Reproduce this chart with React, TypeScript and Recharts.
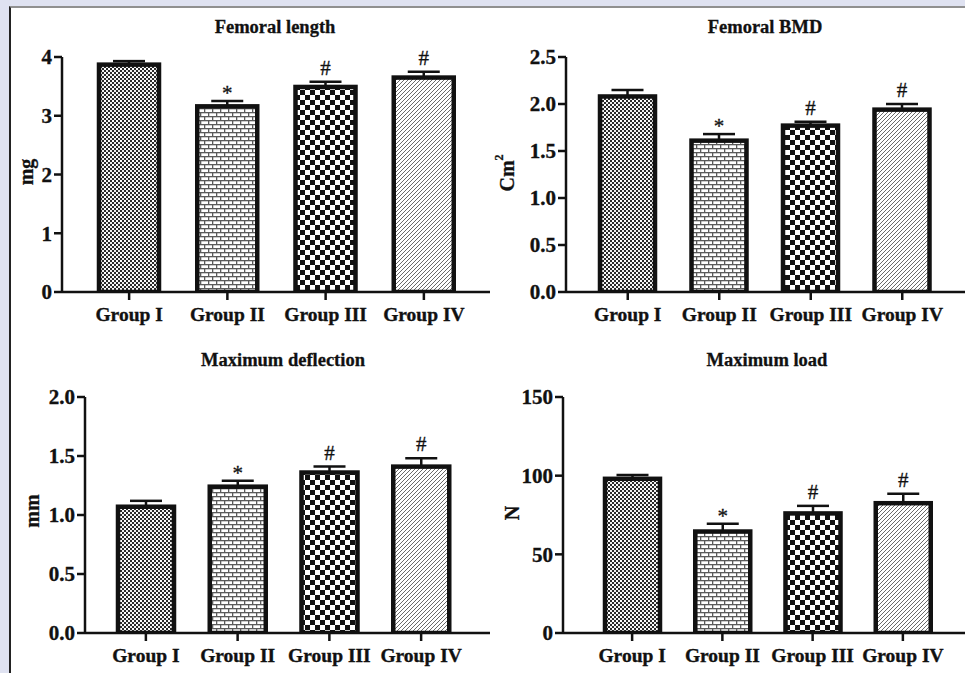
import { BarChart, Bar, XAxis, YAxis, ErrorBar, LabelList } from 'recharts';

const groups = ['Group I', 'Group II', 'Group III', 'Group IV'];
const marks = ['', '*', '#', '#'];

const lengthMean = [3.87, 3.16, 3.49, 3.65];
const lengthErr = [0.06, 0.09, 0.09, 0.1];
const lengthTicks = [0, 1, 2, 3, 4];

const bmdMean = [2.08, 1.61, 1.77, 1.94];
const bmdErr = [0.07, 0.07, 0.04, 0.06];
const bmdTicks = [0, 0.5, 1.0, 1.5, 2.0, 2.5];

const deflMean = [1.07, 1.24, 1.36, 1.41];
const deflErr = [0.05, 0.05, 0.05, 0.07];
const deflTicks = [0, 0.5, 1.0, 1.5, 2.0];

const loadMean = [98, 64.5, 76, 82.5];
const loadErr = [2.5, 5, 4.8, 6];
const loadTicks = [0, 50, 100, 150];

const FONT = '"Liberation Serif", "Times New Roman", serif';
const fills = ['url(#pFine)', 'url(#pBrick)', 'url(#pCheck)', 'url(#pDiag)'];

function Patterns() {
  return (
    <svg width={0} height={0} style={{ position: 'absolute' }}>
      <defs>
        <pattern id="pFine" width={4} height={4} patternUnits="userSpaceOnUse">
          <rect width={4} height={4} fill="#2a2a2a" />
          <rect width={2} height={2} fill="#fff" />
          <rect x={2} y={2} width={2} height={2} fill="#eee" />
        </pattern>
        <pattern id="pBrick" width={8} height={8} patternUnits="userSpaceOnUse">
          <rect width={8} height={8} fill="#fff" />
          <rect y={0} width={8} height={1.3} fill="#5a5a5a" />
          <rect y={4} width={8} height={1.3} fill="#5a5a5a" />
          <rect x={0} y={0} width={1.3} height={4} fill="#5a5a5a" />
          <rect x={4} y={4} width={1.3} height={4} fill="#5a5a5a" />
        </pattern>
        <pattern id="pCheck" width={10} height={10} patternUnits="userSpaceOnUse">
          <rect width={10} height={10} fill="#fff" />
          <rect width={5} height={5} fill="#111" />
          <rect x={5} y={5} width={5} height={5} fill="#111" />
        </pattern>
        <pattern id="pDiag" width={4} height={4} patternUnits="userSpaceOnUse">
          <rect width={4} height={4} fill="#fff" />
          <path d="M-1,1 L1,-1 M0,4 L4,0 M3,5 L5,3" stroke="#6a6a6a" strokeWidth={1} />
        </pattern>
      </defs>
    </svg>
  );
}

const markContent = (values: number[], errs: number[]) => (p: any) => {
  const vb = p.viewBox || {};
  const x = Number(p.x ?? vb.x);
  const y = Number(p.y ?? vb.y);
  const w = Number(p.width ?? vb.width);
  const h = Number(p.height ?? vb.height);
  const v = Number(p.value);
  const i = typeof p.index === 'number' ? p.index : values.indexOf(v);
  const mark = marks[i];
  if (!mark || !v) return null;
  const pxPer = Math.abs(h) / v;
  const top = Math.min(y, y + h);
  const capY = top - errs[i] * pxPer;
  return (
    <text
      x={x + w / 2}
      y={mark === '*' ? capY - 1 : capY - 7}
      textAnchor="middle"
      fontFamily={FONT}
      fontSize={21}
      fill="#111"
      stroke="#111"
      strokeWidth={0.3}
    >
      {mark}
    </text>
  );
};

interface PanelProps {
  left: number;
  top: number;
  width: number;
  height: number;
  axisX: number;
  xAxisH: number;
  pad: { left: number; right: number };
  barSize: number;
  values: number[];
  errs: number[];
  ticks: number[];
  decimals: number;
  title: string;
  titleX: number;
  titleY: number;
  yLabel: React.ReactNode;
  yLabelX: number;
  yLabelY: number;
}

const tickFont = { fontFamily: FONT, fontWeight: 'bold', fill: '#111', stroke: '#111', strokeWidth: 0.35 };

function Panel(props: PanelProps) {
  const data = groups.map((g, i) => ({
    name: g,
    value: props.values[i],
    err: [0, props.errs[i]],
  }));
  const max = props.ticks[props.ticks.length - 1];
  return (
    <div style={{ position: 'absolute', left: props.left, top: props.top }}>
      <BarChart
        width={props.width}
        height={props.height}
        data={data}
        margin={{ top: 57, right: 0, bottom: 0, left: 0 }}
      >
        <text
          x={props.titleX}
          y={props.titleY}
          textAnchor="middle"
          fontFamily={FONT}
          fontWeight="bold"
          fontSize={18.5}
          fill="#111"
          stroke="#111"
          strokeWidth={0.3}
        >
          {props.title}
        </text>
        <text
          x={props.yLabelX}
          y={props.yLabelY}
          transform={`rotate(-90 ${props.yLabelX} ${props.yLabelY})`}
          textAnchor="middle"
          dominantBaseline="central"
          fontFamily={FONT}
          fontWeight="bold"
          fontSize={20}
          fill="#111"
          stroke="#111"
          strokeWidth={0.3}
        >
          {props.yLabel}
        </text>
        <XAxis
          dataKey="name"
          height={props.xAxisH}
          padding={props.pad}
          tickSize={8}
          tickMargin={7}
          axisLine={{ stroke: '#111', strokeWidth: 2.5 }}
          tickLine={{ stroke: '#111', strokeWidth: 2.5 }}
          tick={{ ...tickFont, fontSize: 19.5 }}
          interval={0}
        />
        <YAxis
          width={props.axisX}
          domain={[0, max]}
          ticks={props.ticks}
          tickSize={8}
          tickMargin={2}
          allowDataOverflow
          tickFormatter={(v: number) => v.toFixed(props.decimals)}
          axisLine={{ stroke: '#111', strokeWidth: 2.5 }}
          tickLine={{ stroke: '#111', strokeWidth: 2.5 }}
          tick={{ ...tickFont, fontSize: 21 }}
        />
        <Bar
          dataKey="value"
          barSize={props.barSize}
          stroke="#111"
          strokeWidth={4.5}
          isAnimationActive={false}
          shape={(s: any) => (
            <rect
              x={s.x}
              y={s.y}
              width={s.width}
              height={s.height}
              fill={fills[s.index]}
              stroke="#111"
              strokeWidth={4.5}
            />
          )}
        >
          <ErrorBar dataKey="err" direction="y" width={16} stroke="#111" strokeWidth={2.5} />
          <LabelList dataKey="value" content={markContent(props.values, props.errs)} />
        </Bar>
      </BarChart>
    </div>
  );
}

export default function App() {
  return (
    <div
      style={{
        position: 'fixed',
        left: 0,
        top: 0,
        width: 965,
        height: 673,
        background: '#dfe2f1',
        overflow: 'hidden',
      }}
    >
      <Patterns />
      <div
        style={{
          position: 'absolute',
          left: 9,
          top: 6,
          right: 0,
          bottom: 0,
          background: '#fff',
          borderTop: '2px solid #909090',
          borderLeft: '2px solid #222',
        }}
      />
      <Panel
        left={0}
        top={0}
        width={490}
        height={340}
        axisX={62}
        xAxisH={48}
        pad={{ left: 18, right: 17 }}
        barSize={60}
        values={lengthMean}
        errs={lengthErr}
        ticks={lengthTicks}
        decimals={0}
        title="Femoral length"
        titleX={275}
        titleY={33}
        yLabel="mg"
        yLabelX={26}
        yLabelY={172}
      />
      <Panel
        left={480}
        top={0}
        width={485}
        height={340}
        axisX={86}
        xAxisH={48}
        pad={{ left: 16, right: 17 }}
        barSize={55}
        values={bmdMean}
        errs={bmdErr}
        ticks={bmdTicks}
        decimals={1}
        title="Femoral BMD"
        titleX={285}
        titleY={33}
        yLabel={
          <>
            Cm<tspan dy={-8} fontSize={12}>2</tspan>
          </>
        }
        yLabelX={27}
        yLabelY={173}
      />
      <Panel
        left={0}
        top={340}
        width={490}
        height={333}
        axisX={85}
        xAxisH={40}
        pad={{ left: 15, right: 23 }}
        barSize={56}
        values={deflMean}
        errs={deflErr}
        ticks={deflTicks}
        decimals={1}
        title="Maximum deflection"
        titleX={283}
        titleY={26}
        yLabel="mm"
        yLabelX={32}
        yLabelY={171}
      />
      <Panel
        left={480}
        top={340}
        width={485}
        height={333}
        axisX={83}
        xAxisH={40}
        pad={{ left: 24, right: 17 }}
        barSize={55}
        values={loadMean}
        errs={loadErr}
        ticks={loadTicks}
        decimals={0}
        title="Maximum load"
        titleX={287}
        titleY={26}
        yLabel="N"
        yLabelX={32}
        yLabelY={173}
      />
    </div>
  );
}
